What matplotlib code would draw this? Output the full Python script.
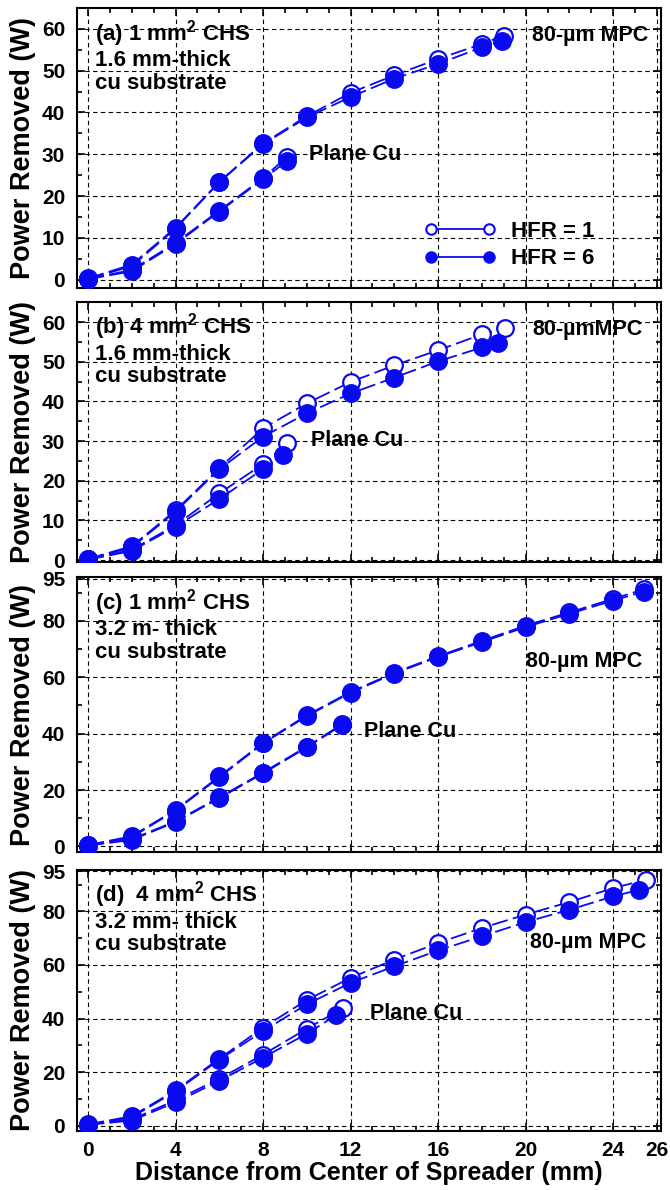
import matplotlib
matplotlib.use('Agg')
import matplotlib.pyplot as plt
from matplotlib.lines import Line2D
from matplotlib.ticker import MultipleLocator, FixedLocator

# values
# (a) 1 mm2 CHS, 1.6 mm substrate
xa_mpc_h1 = [0, 2, 4, 6, 8, 10, 12, 14, 16, 18, 19.0]
a_mpc_h1 = [0.3, 3.6, 12.4, 23.4, 32.6, 39.1, 44.7, 48.9, 52.8, 56.4, 58.4]
xa_mpc_h6 = [0, 2, 4, 6, 8, 10, 12, 14, 16, 18, 18.9]
a_mpc_h6 = [0.2, 3.2, 12.2, 23.3, 32.4, 38.8, 43.7, 48.1, 51.6, 55.6, 57.0]
xa_cu = [0, 2, 4, 6, 8, 9.1]
a_cu_h1 = [0.2, 2.3, 8.8, 16.5, 24.3, 29.4]
a_cu_h6 = [0.1, 2.0, 8.5, 16.3, 24.0, 28.4]

# (b) 4 mm2 CHS, 1.6 mm substrate
xb_mpc_h1 = [0, 2, 4, 6, 8, 10, 12, 14, 16, 18, 19.05]
b_mpc_h1 = [0.3, 3.5, 12.5, 23.2, 33.2, 39.5, 44.9, 49.1, 52.9, 56.9, 58.4]
xb_mpc_h6 = [0, 2, 4, 6, 8, 10, 12, 14, 16, 18, 18.75]
b_mpc_h6 = [0.2, 3.2, 12.2, 22.9, 31.1, 37.0, 42.0, 46.0, 50.1, 53.6, 54.8]
xb_cu_h1 = [0, 2, 4, 6, 8, 9.1]
b_cu_h1 = [0.2, 2.6, 8.8, 16.8, 24.2, 29.4]
xb_cu_h6 = [0, 2, 4, 6, 8, 8.9]
b_cu_h6 = [0.1, 2.3, 8.4, 15.4, 22.9, 26.4]

# (c) 1 mm2 CHS, 3.2 mm substrate
xc_mpc = [0, 2, 4, 6, 8, 10, 12, 14, 16, 18, 20, 22, 24, 25.4]
c_mpc_h1 = [0.5, 3.6, 13.0, 24.8, 36.8, 46.5, 54.8, 61.6, 67.5, 72.9, 78.3, 83.0, 87.8, 91.2]
c_mpc_h6 = [0.3, 3.3, 12.7, 24.5, 36.5, 46.2, 54.5, 61.3, 67.2, 72.5, 77.8, 82.5, 87.2, 90.4]
xc_cu = [0, 2, 4, 6, 8, 10, 11.6]
c_cu_h1 = [0.4, 2.6, 8.9, 17.4, 26.2, 35.4, 43.3]
c_cu_h6 = [0.3, 2.3, 8.6, 17.1, 25.9, 35.1, 43.0]

# (d) 4 mm2 CHS, 3.2 mm substrate
xd_mpc_h1 = [0, 2, 4, 6, 8, 10, 12, 14, 16, 18, 20, 22, 24, 25.5]
d_mpc_h1 = [0.5, 3.5, 13.2, 25.0, 36.6, 46.9, 55.2, 62.0, 68.2, 73.8, 78.8, 83.5, 88.7, 91.8]
xd_mpc_h6 = [0, 2, 4, 6, 8, 10, 12, 14, 16, 18, 20, 22, 24, 25.2]
d_mpc_h6 = [0.3, 3.1, 12.8, 24.6, 35.3, 45.3, 53.3, 59.5, 65.4, 70.7, 76.0, 80.6, 85.6, 88.1]
xd_cu_h1 = [0, 2, 4, 6, 8, 10, 11.65]
d_cu_h1 = [0.4, 2.3, 9.5, 17.5, 26.5, 36.2, 43.8]
xd_cu_h6 = [0, 2, 4, 6, 8, 10, 11.35]
d_cu_h6 = [0.3, 1.9, 8.7, 16.7, 25.4, 34.3, 41.3]

panel_titles = [
    "(a) 1 mm$^2$ CHS\n1.6 mm-thick\ncu substrate",
    "(b) 4 mm$^2$ CHS\n1.6 mm-thick\ncu substrate",
    "(c) 1 mm$^2$ CHS\n3.2 m- thick\ncu substrate",
    "(d)  4 mm$^2$ CHS\n3.2 mm- thick\ncu substrate",
]
mpc_labels = ["80-\u00b5m MPC", "80-\u00b5mMPC", "80-\u00b5m MPC", "80-\u00b5m MPC"]
mpc_label_pos = [(20.3, 58.4), (20.3, 58.1), (20.0, 65.7), (20.2, 68.2)]
cu_label_pos = [(10.1, 30.0), (10.2, 30.2), (12.6, 40.9), (12.9, 41.9)]
x_ticks = [0, 4, 8, 12, 16, 20, 24, 26]

plt.rcParams['font.family'] = ['Liberation Sans', 'DejaVu Sans']
plt.rcParams['font.weight'] = 'bold'
plt.rcParams['mathtext.fontset'] = 'custom'
plt.rcParams['mathtext.rm'] = 'Liberation Sans:bold'
plt.rcParams['mathtext.bf'] = 'Liberation Sans:bold'
plt.rcParams['mathtext.default'] = 'bf'

BLUE = '#0a0af0'

series = [
    [(xa_mpc_h1, a_mpc_h1, xa_mpc_h6, a_mpc_h6), (xa_cu, a_cu_h1, xa_cu, a_cu_h6)],
    [(xb_mpc_h1, b_mpc_h1, xb_mpc_h6, b_mpc_h6), (xb_cu_h1, b_cu_h1, xb_cu_h6, b_cu_h6)],
    [(xc_mpc, c_mpc_h1, xc_mpc, c_mpc_h6), (xc_cu, c_cu_h1, xc_cu, c_cu_h6)],
    [(xd_mpc_h1, d_mpc_h1, xd_mpc_h6, d_mpc_h6), (xd_cu_h1, d_cu_h1, xd_cu_h6, d_cu_h6)],
]

# axes boxes (bottom, top) in figure fraction
boxes = [(0.758, 0.9933), (0.5277, 0.746), (0.284, 0.515), (0.0496, 0.269)]


def curve(ax, x, y, filled):
    ax.plot(x, y, color=BLUE, lw=1.3, dashes=(9, 3), marker='o', ms=12,
            mfc=BLUE if filled else 'white', mec=BLUE, mew=1.6,
            zorder=4 if filled else 3)


fig = plt.figure(figsize=(6.7, 11.9), dpi=100)

for i, (bot, top) in enumerate(boxes):
    ax = fig.add_axes([0.115, bot, 0.872, top - bot])
    for x1, y1, x6, y6 in series[i]:
        curve(ax, x1, y1, False)
        curve(ax, x6, y6, True)

    ax.set_xlim(-0.5, 26.2)
    ax.xaxis.set_major_locator(FixedLocator(x_ticks))
    ax.xaxis.set_minor_locator(MultipleLocator(1))
    if i < 2:
        ax.set_ylim(-2 if i == 0 else -0.5, 65)
        ax.yaxis.set_major_locator(MultipleLocator(10))
        ax.yaxis.set_minor_locator(MultipleLocator(5))
    else:
        ax.set_ylim(-2, 95.5)
        ax.yaxis.set_major_locator(FixedLocator([0, 20, 40, 60, 80, 95]))
        ax.yaxis.set_minor_locator(MultipleLocator(10))

    ax.set_axisbelow(True)
    ax.grid(True, which='major', color='black', ls=(0, (4, 3)), lw=0.8)
    ax.tick_params(which='both', direction='in', top=True, right=True,
                   width=1.2, labelsize=15)
    ax.tick_params(which='major', length=6)
    ax.tick_params(which='minor', length=3.5)
    ax.tick_params(axis='y', pad=8.5)
    ax.tick_params(axis='x', pad=7)
    for sp in ax.spines.values():
        sp.set_linewidth(1.5)

    ax.set_ylabel('Power Removed (W)', fontsize=19.5, fontweight='bold')
    ax.yaxis.set_label_coords(-0.071, 0.5)

    if i < 3:
        ax.tick_params(labelbottom=False)
    else:
        ax.set_xlabel('Distance from Center of Spreader (mm)', fontsize=18,
                      fontweight='bold', labelpad=1)

    ax.text(0.03, 0.965, panel_titles[i], transform=ax.transAxes, va='top',
            ha='left', fontsize=16, fontweight='bold', linespacing=1.1)
    mx, my = mpc_label_pos[i]
    ax.text(mx, my, mpc_labels[i], va='center', ha='left', fontsize=15.5,
            fontweight='bold')
    cx, cy = cu_label_pos[i]
    ax.text(cx, cy, 'Plane Cu', va='center', ha='left', fontsize=15.5,
            fontweight='bold')

    if i == 0:
        handles = [
            Line2D([], [], color=BLUE, lw=1.3, marker='o', ms=7.5,
                   mfc='white', mec=BLUE, mew=1.5),
            Line2D([], [], color=BLUE, lw=1.3, marker='o', ms=7.5,
                   mfc=BLUE, mec=BLUE, mew=1.5),
        ]
        ax.legend(handles, ['HFR = 1', 'HFR = 6'], loc='upper left',
                  bbox_to_anchor=(0.595, 0.24), frameon=False, numpoints=2,
                  handlelength=3.2, handletextpad=0.7, labelspacing=0.3,
                  borderpad=0, borderaxespad=0,
                  prop={'size': 16, 'weight': 'bold'})

fig.savefig('out.png', dpi=100)
